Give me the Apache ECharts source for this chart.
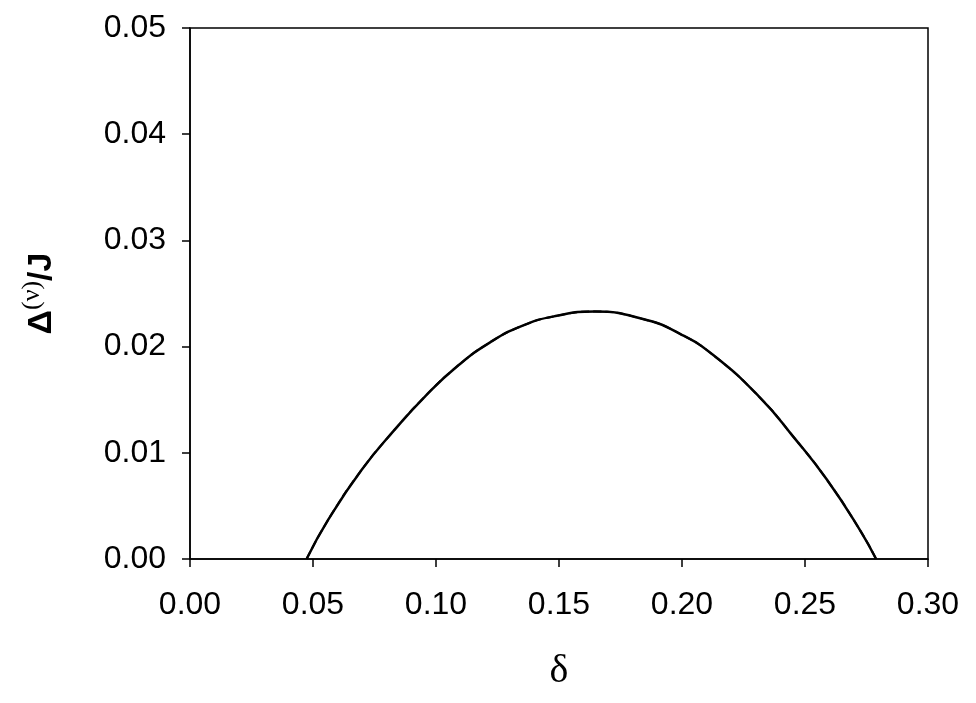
<!DOCTYPE html>
<html>
<head>
<meta charset="utf-8">
<script src="https://cdn.jsdelivr.net/npm/echarts@6/dist/echarts.min.js"></script>
<style>html,body{margin:0;padding:0;background:#fff}#c{width:976px;height:703px}</style>
</head>
<body>
<div id="c"></div>
<script>
const delta = [0.0474, 0.0562, 0.0698, 0.0833, 0.0955, 0.1084, 0.1220, 0.1355, 0.1491, 0.1645, 0.1856, 0.1992, 0.2127, 0.2317, 0.2453, 0.2588, 0.2724, 0.2789];
const gapSolid = [0, 0.0037, 0.0084, 0.0122, 0.0153, 0.0181, 0.0204, 0.0220, 0.0229, 0.0233, 0.0225, 0.0212, 0.0192, 0.0152, 0.0115, 0.0075, 0.0027, 0];
const gapDashed = [0, 0.0037, 0.0084, 0.0122, 0.0153, 0.0181, 0.0204, 0.0220, 0.0229, 0.0233, 0.0225, 0.0212, 0.0192, 0.0152, 0.0115, 0.0075, 0.0027, 0];
const xTicks = [0, 0.05, 0.10, 0.15, 0.20, 0.25, 0.30];
const yTicks = [0, 0.01, 0.02, 0.03, 0.04, 0.05];

const chart = echarts.init(document.getElementById('c'));
const sans = 'Liberation Sans, Arial, sans-serif';
chart.setOption({
  animation: false,
  grid: {left: 190, right: 48, top: 28, bottom: 144, show: true, borderColor: '#000', borderWidth: 1.5, backgroundColor: 'transparent'},
  xAxis: {
    type: 'value', min: xTicks[0], max: xTicks[xTicks.length - 1], interval: 0.05,
    name: 'δ', nameLocation: 'middle', nameGap: 92,
    nameTextStyle: {fontFamily: 'Liberation Serif, Times New Roman, serif', fontSize: 40, color: '#000'},
    axisLine: {show: true, lineStyle: {color: '#000', width: 1.5}},
    axisTick: {show: true, inside: false, length: 8, lineStyle: {color: '#000', width: 1.5}},
    splitLine: {show: false},
    axisLabel: {fontFamily: sans, fontSize: 32, color: '#000', margin: 30,
      formatter: v => v.toFixed(2)}
  },
  yAxis: {
    type: 'value', min: yTicks[0], max: yTicks[yTicks.length - 1], interval: 0.01,
    name: '{a|Δ}{s|(ν)}{a|/J}', nameLocation: 'middle', nameGap: 131, nameRotate: 90,
    nameTextStyle: {
      rich: {
        a: {fontFamily: sans, fontSize: 34, fontWeight: 'bold', color: '#000', lineHeight: 40, verticalAlign: 'bottom'},
        s: {fontFamily: 'Liberation Serif, Times New Roman, serif', fontSize: 26, color: '#000', lineHeight: 40, verticalAlign: 'top', padding: [0, 0, 18, 0]}
      }
    },
    axisLine: {show: true, lineStyle: {color: '#000', width: 1.5}},
    axisTick: {show: true, inside: false, length: 8, lineStyle: {color: '#000', width: 1.5}},
    splitLine: {show: false},
    axisLabel: {fontFamily: sans, fontSize: 32, color: '#000', margin: 24,
      formatter: v => v.toFixed(2)}
  },
  series: [
    {type: 'line', data: delta.map((d, i) => [d, gapSolid[i]]), smooth: 0.5, showSymbol: false,
     lineStyle: {color: '#000', width: 2.5}},
    {type: 'line', data: delta.map((d, i) => [d, gapDashed[i]]), smooth: 0.5, showSymbol: false,
     lineStyle: {color: '#000', width: 2, type: [8, 4]}}
  ]
});
</script>
</body>
</html>
